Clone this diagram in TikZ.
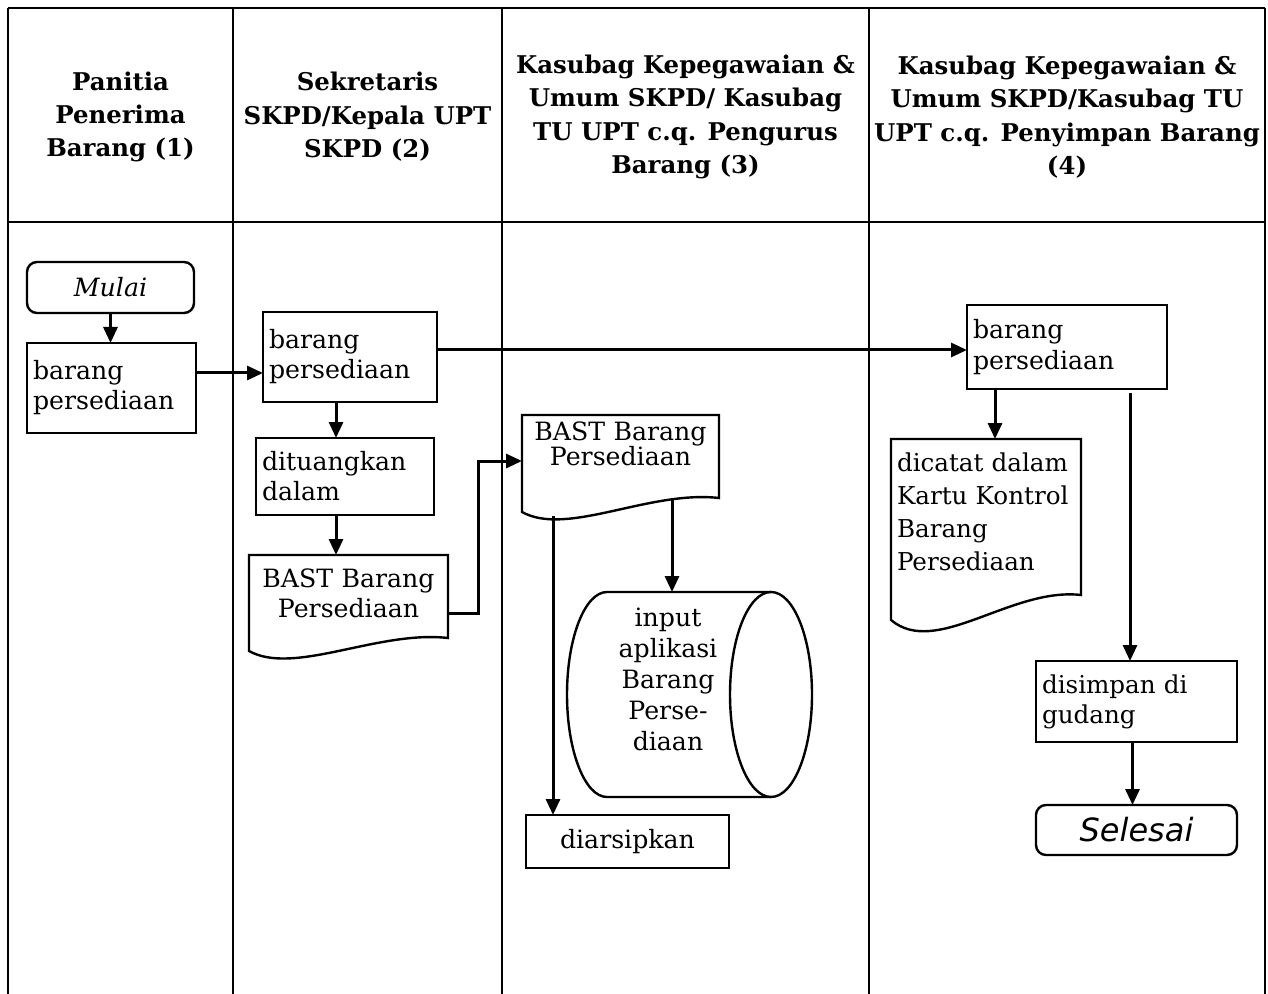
\documentclass[tikz,border=0pt]{standalone}
\usepackage{fontspec}
\setmainfont{DejaVu Serif}
\newfontfamily\sansobl{DejaVu Sans}
\usepackage{tikz}
\usetikzlibrary{arrows.meta, positioning, calc}

\begin{document}
\begin{tikzpicture}[
  x=0.5pt, y=-0.5pt,
  font=\fontsize{12.6}{15}\selectfont,
  lane/.style={line width=1.2pt},
  head/.style={font=\fontsize{12.2}{16.7}\selectfont\bfseries, align=center, inner sep=0pt},
  box/.style={draw, line width=1.2pt, inner xsep=3pt, inner ysep=0pt, outer sep=0pt, align=left},
  term/.style={box, rounded corners=5pt, align=center},
  doc/.style={inner xsep=3pt, outer sep=0pt, anchor=north},
  pala/.style={font=\fontsize{12.3}{16.5}\selectfont},
  arr/.style={line width=1.5pt, -{Triangle[length=8pt, width=7pt]}},
]
\useasboundingbox (0,0) rectangle (1268,994);
% swimlane frame
\draw[lane] (8,8) -- (1265,8);
\draw[lane] (8,222) -- (1265,222);
\foreach \x in {8,233,502,869,1265}{ \draw[lane] (\x,8) -- (\x,994); }
\node[head] (h1) at (120.5,117) {Panitia\\Penerima\\Barang (1)};
\node[head] (h2) at (367.5,117) {Sekretaris\\SKPD/Kepala UPT\\SKPD (2)};
\node[head] (h3) at (685.5,117) {Kasubag Kepegawaian \&\\Umum SKPD/ Kasubag\\TU UPT c.q. Pengurus\\Barang (3)};
\node[head] (h4) at (1067,117) {Kasubag Kepegawaian \&\\Umum SKPD/Kasubag TU\\UPT c.q. Penyimpan Barang\\(4)};
% lane 1 and 2
\node[term, minimum width=83.5pt, minimum height=25.5pt] (mulai) at (110.5,287.5) {\itshape Mulai};
\node[box, text width=78.5pt, minimum height=45pt] (brgA) at (111.5,388) {barang\\persediaan};
\node[box, text width=81pt, minimum height=45pt] (brgB) at (350,357) {barang\\persediaan};
\node[box, text width=83pt, minimum height=38.5pt] (tuang) at (345,476.5) {dituangkan\\dalam};
\node[doc, text width=93.5pt, align=center, inner ysep=7pt] (bastA) at (348.5,555) {BAST Barang\\Persediaan};
% lane 3
\node[doc, text width=92.5pt, align=center, inner ysep=3.5pt, font=\fontsize{12.6}{12.5}\selectfont] (bastB) at (620.5,415) {BAST Barang\\Persediaan};
\node[align=center, inner sep=0pt, font=\fontsize{12.6}{15.5}\selectfont] (db) at (668,679) {input\\aplikasi\\Barang\\Perse-\\diaan};
\draw[line width=1.2pt] (771,592) -- (607,592) arc[start angle=270, end angle=90, x radius=40, y radius=102.5] -- (771,797);
\draw[line width=1.2pt] (771,694.5) ellipse[x radius=41, y radius=102.5];
\node[box, align=center, minimum width=101.5pt, minimum height=26.5pt] (arsip) at (627.5,841.5) {diarsipkan};
% lane 4
\node[box, text width=94pt, minimum height=42pt, font=\fontsize{12.6}{15.5}\selectfont] (brgD) at (1067,347) {barang\\persediaan};
\node[doc, pala, text width=89pt, align=left, inner ysep=7pt] (catat) at (986,439) {dicatat dalam\\Kartu Kontrol\\Barang\\Persediaan};
\node[box, text width=94.5pt, minimum height=40.5pt, font=\fontsize{12.3}{15}\selectfont] (simpan) at (1136.5,701.5) {disimpan di\\gudang};
\node[term, minimum width=100.5pt, minimum height=25pt] (selesai) at (1136.5,830) {\sansobl\itshape\fontsize{16}{18}\selectfont Selesai};
% document outlines with wavy bottom
\foreach \n/\h/\d/\e in {bastA/83/13/25, bastB/83/14/25, catat/156/25/38}{
  \draw[line width=1.2pt] (\n.north west) -- (\n.north east) -- ++(0,\h)
    .. controls +(-70,-8) and +(45,\e) .. ($(\n.north west)+(0,\h+\d)$) -- cycle;
}
% connectors
\coordinate (p1) at ([yshift=7.5pt]brgA.east);
\coordinate (p2) at ([yshift=3.5pt]brgB.east);
\coordinate (c1) at ([xshift=-7pt]brgB.south);
\coordinate (c2) at (c1 |- tuang.south);
\coordinate (bastA-out) at ($(bastA.north east)+(0,58)$);
\coordinate (bastB-in) at ($(bastB.north west)+(0,46)$);
\coordinate (bastB-db) at ($(bastB.north west)+(150,84)$);
\coordinate (bastB-arc) at ($(bastB.north west)+(31,101)$);
\coordinate (dbtop) at (672,592);
\coordinate (d1) at ([xshift=-36pt]brgD.south);
\coordinate (d2) at ([xshift=31.5pt, yshift=-2pt]brgD.south);
\draw[arr] (mulai.south) -- (mulai.south |- brgA.north);
\draw[arr] (p1) -- (p1 -| brgB.west);
\draw[arr] (p2) -- (p2 -| brgD.west);
\draw[arr] (c1) -- (c1 |- tuang.north);
\draw[arr] (c2) -- (c2 |- bastA.north);
\draw[arr] (bastA-out) -- ++(30,0) |- (bastB-in);
\draw[arr] (bastB-db) -- (dbtop);
\draw[arr] (bastB-arc) -- (bastB-arc |- arsip.north);
\draw[arr] (d1) -- (d1 |- catat.north);
\draw[arr] (d2) -- (d2 |- simpan.north);
\draw[arr] ([xshift=-2pt]simpan.south) -- ([xshift=-2pt]selesai.north);
\end{tikzpicture}
\end{document}
